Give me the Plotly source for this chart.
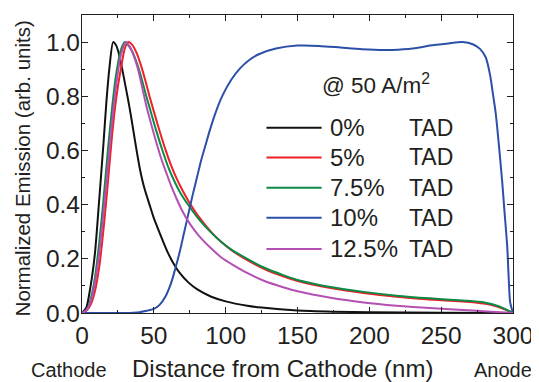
import plotly.graph_objects as go

# ---- data ----
series_names = ["0%", "5%", "7.5%", "10%", "12.5%"]
series_suffix = "TAD"
series_colors = ["#111111", "#ee2028", "#0b8a45", "#2c4fa8", "#b44fb4"]

x_0 = [0, 3, 6, 9, 12, 15, 17, 19, 21.7, 24, 26, 28, 30, 32, 34, 36, 38, 40, 42, 44, 47, 50, 53, 56, 60, 64, 68, 74, 80, 90, 100, 115, 125, 150, 175, 200, 250, 300]
y_0 = [0, 0.02, 0.1, 0.22, 0.42, 0.63, 0.78, 0.9, 1.0, 0.985, 0.95, 0.9, 0.845, 0.79, 0.73, 0.665, 0.6, 0.54, 0.49, 0.45, 0.4, 0.35, 0.31, 0.27, 0.22, 0.18, 0.148, 0.113, 0.088, 0.06, 0.043, 0.027, 0.02, 0.009, 0.005, 0.003, 0.001, 0]

x_5 = [0, 3, 6, 9, 12, 15, 18, 21, 24, 27, 30, 32.2, 35, 38, 41, 44, 47, 50.5, 54, 58, 62, 66, 70, 74.5, 82, 90.6, 97, 104, 116, 127, 140, 150, 173, 196, 219, 242, 265, 275, 283, 290, 295, 300]
y_5 = [0, 0.008, 0.03, 0.08, 0.17, 0.31, 0.48, 0.66, 0.8, 0.9, 0.98, 1.0, 0.99, 0.96, 0.915, 0.86, 0.8, 0.735, 0.672, 0.605, 0.545, 0.495, 0.452, 0.41, 0.35, 0.295, 0.262, 0.232, 0.192, 0.162, 0.135, 0.118, 0.092, 0.074, 0.06, 0.05, 0.042, 0.038, 0.032, 0.022, 0.012, 0]

x_75 = [0, 3, 6, 9, 12, 15, 18, 21, 23.6, 27, 29.8, 32, 35, 38, 41, 44, 47.5, 51.6, 56, 60.3, 64, 68, 74.5, 82, 90.6, 97, 104, 116, 127, 140, 150, 173, 196, 219, 242, 265, 280, 290, 295, 300]
y_75 = [0, 0.01, 0.05, 0.13, 0.26, 0.42, 0.6, 0.76, 0.875, 0.97, 1.0, 0.99, 0.965, 0.925, 0.875, 0.815, 0.75, 0.674, 0.6, 0.535, 0.49, 0.448, 0.395, 0.342, 0.293, 0.262, 0.234, 0.197, 0.167, 0.14, 0.122, 0.096, 0.078, 0.064, 0.054, 0.046, 0.039, 0.025, 0.013, 0]

x_10 = [0, 30, 40, 45, 50, 54, 58, 62, 65, 68, 71, 74, 77, 80, 83, 86, 89, 93, 98, 104, 110, 116, 123, 135, 150, 165, 180, 195, 210, 220, 233, 242, 255, 265, 272, 277, 281, 284, 286, 288, 290, 292.4, 294, 296, 297, 298, 300]
y_10 = [0, 0, 0.003, 0.008, 0.015, 0.03, 0.06, 0.11, 0.165, 0.225, 0.295, 0.365, 0.435, 0.5, 0.565, 0.62, 0.675, 0.74, 0.805, 0.862, 0.903, 0.932, 0.955, 0.976, 0.987, 0.986, 0.98, 0.974, 0.971, 0.972, 0.978, 0.987, 0.995, 1.0, 0.992, 0.975, 0.944, 0.88, 0.81, 0.736, 0.63, 0.49, 0.38, 0.244, 0.13, 0.04, 0]

x_125 = [0, 3, 6, 9, 12, 15, 18, 21, 24.5, 27, 30.5, 33, 36, 39, 42, 45, 48.5, 52, 55, 58.5, 62, 66, 70, 75, 81.4, 90, 97, 105, 116, 127, 140, 150, 173, 196, 219, 242, 265, 285, 300]
y_125 = [0, 0.01, 0.04, 0.11, 0.22, 0.37, 0.54, 0.71, 0.87, 0.95, 1.0, 0.985, 0.95, 0.9, 0.83, 0.76, 0.69, 0.625, 0.572, 0.52, 0.47, 0.42, 0.375, 0.33, 0.285, 0.238, 0.205, 0.178, 0.145, 0.118, 0.095, 0.08, 0.056, 0.039, 0.027, 0.018, 0.011, 0.005, 0]

x_ticks = [0, 50, 100, 150, 200, 250, 300]
y_ticks = [0.0, 0.2, 0.4, 0.6, 0.8, 1.0]
y_ticktext = ["0.0", "0.2", "0.4", "0.6", "0.8", "1.0"]

xs = [x_0, x_5, x_75, x_10, x_125]
ys = [y_0, y_5, y_75, y_10, y_125]

FONT = "Liberation Sans, Arial, sans-serif"
TXT = "#231f20"

fig = go.Figure()
for name, color, xv, yv in zip(series_names, series_colors, xs, ys):
    fig.add_trace(go.Scatter(x=xv, y=yv, mode="lines", name=f"{name} {series_suffix}",
                             line=dict(color=color, width=2, shape="spline", smoothing=0.7),
                             showlegend=False))

axis_common = dict(showline=True, linecolor="#231f20", linewidth=1.3, mirror="ticks",
                   ticks="inside", ticklen=6, tickwidth=1.2, tickcolor="#231f20",
                   showgrid=False, zeroline=False,
                   tickfont=dict(family=FONT, size=24.5, color=TXT))

fig.update_xaxes(range=[0, 300], tickvals=x_ticks, **axis_common,
                 minor=dict(dtick=25, ticks="inside", ticklen=3, tickwidth=1.1, tickcolor="#231f20"))
fig.update_yaxes(range=[0, 1.1], tickvals=y_ticks, ticktext=y_ticktext, ticklabelstandoff=-4,
                 **axis_common,
                 minor=dict(dtick=0.1, ticks="inside", ticklen=3, tickwidth=1.1, tickcolor="#231f20"))

annotations = [
    dict(text="Distance from Cathode (nm)", x=0.466, y=-0.185, xref="paper", yref="paper",
         xanchor="center", yanchor="middle", showarrow=False, font=dict(family=FONT, size=24, color=TXT)),
    dict(text="Normalized Emission (arb. units)", x=-0.137, y=0.485, xref="paper", yref="paper",
         xanchor="center", yanchor="middle", textangle=-90, showarrow=False,
         font=dict(family=FONT, size=20.5, color=TXT)),
    dict(text="Cathode", x=-0.031, y=-0.19, xref="paper", yref="paper", xanchor="center",
         yanchor="middle", showarrow=False, font=dict(family=FONT, size=20, color=TXT)),
    dict(text="Anode", x=0.977, y=-0.19, xref="paper", yref="paper", xanchor="center",
         yanchor="middle", showarrow=False, font=dict(family=FONT, size=20, color=TXT)),
    dict(text="@ 50 A/m<sup>2</sup>", x=0.553, y=0.77, xref="paper", yref="paper", xanchor="left",
         yanchor="middle", showarrow=False, font=dict(family=FONT, size=22.5, color=TXT)),
]

legend_rows_y = [0.622, 0.522, 0.42, 0.32, 0.215]
shapes = []
for name, color, ry in zip(series_names, series_colors, legend_rows_y):
    shapes.append(dict(type="line", xref="paper", yref="paper", x0=0.428, x1=0.556, y0=ry, y1=ry,
                       line=dict(color=color, width=2)))
    annotations.append(dict(text=name, x=0.571, y=ry, xref="paper", yref="paper", xanchor="left",
                            yanchor="middle", showarrow=False, font=dict(family=FONT, size=24, color=TXT)))
    annotations.append(dict(text=series_suffix, x=0.753, y=ry, xref="paper", yref="paper", xanchor="left",
                            yanchor="middle", showarrow=False, font=dict(family=FONT, size=23, color=TXT)))

# page body adds an 8px margin, so the figure is sized to fit the window
fig.update_layout(width=531, height=374, margin=dict(l=74, r=21, t=6, b=69),
                  paper_bgcolor="white", plot_bgcolor="white",
                  annotations=annotations, shapes=shapes, showlegend=False)

fig.write_html("out.html")
